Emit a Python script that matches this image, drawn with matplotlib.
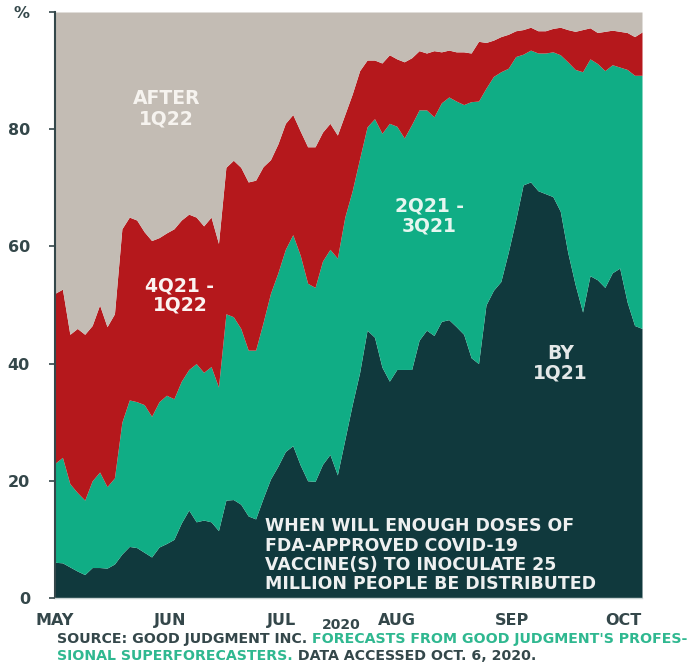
import matplotlib
matplotlib.use("Agg")
import matplotlib.pyplot as plt
import matplotlib.dates as mdates
import numpy as np
import pandas as pd

# ---- data (cumulative probabilities, %) ----
dates = pd.date_range("2020-05-01", "2020-10-06", freq="2D")
by_1q21 = [6.1, 6.0, 5.3, 4.6, 4.0, 5.2, 5.2, 5.1, 5.8, 7.5,
           8.8, 8.6, 7.8, 7.0, 8.7, 9.3, 10.0, 12.8, 15.0, 13.0,
           13.3, 13.0, 11.5, 16.7, 16.8, 16.0, 14.0, 13.5, 17.0, 20.3,
           22.5, 25.0, 26.0, 22.7, 20.0, 19.9, 22.8, 24.5, 21.0, 27.0,
           33.0, 38.5, 45.7, 44.5, 39.4, 37.0, 39.0, 39.0, 39.0, 44.0,
           45.7, 44.8, 47.2, 47.5, 46.3, 45.0, 41.0, 40.0, 50.0, 52.5,
           54.0, 59.0, 64.5, 70.5, 71.0, 69.5, 69.0, 68.5, 66.0, 59.0,
           53.5, 48.8, 55.0, 54.3, 53.0, 55.5, 56.3, 50.5, 46.5, 46.0]
by_3q21 = [23, 24, 19.5, 18, 16.7, 20, 21.5, 19, 20.5, 30,
           33.8, 33.5, 33, 31, 33.5, 34.6, 34, 37, 39, 40,
           38.5, 39.5, 36, 48.5, 48, 46, 42.3, 42.3, 47, 52,
           55.5, 59.5, 62, 58.5, 53.7, 53, 57.5, 59.5, 58, 65,
           69.5, 75, 80.4, 81.8, 79.3, 81, 80.5, 78.5, 80.8, 83.3,
           83.3, 82.1, 84.5, 85.5, 84.8, 84.2, 84.7, 84.8, 87, 89,
           89.8, 90.4, 92.4, 92.8, 93.5, 93, 93, 93.2, 92.7, 91.5,
           90.2, 89.8, 92, 91.2, 90, 91, 90.6, 90.2, 89.2, 89.2]
by_1q22 = [52, 52.7, 45, 46, 45, 46.5, 50, 46.3, 48.5, 63,
           65, 64.5, 62.5, 61, 61.5, 62.3, 63, 64.5, 65.5, 65,
           63.5, 65, 60.5, 73.5, 74.7, 73.5, 71, 71.3, 73.6, 74.8,
           77.5, 81, 82.5, 79.7, 77, 77, 79.5, 81, 79, 82.5,
           86, 90, 91.8, 91.8, 91.3, 92.7, 92, 91.5, 92.2, 93.4,
           93, 93.4, 93.2, 93.5, 93.2, 93.2, 93, 95, 94.8, 95.2,
           95.8, 96.2, 96.8, 97, 97.4, 96.8, 96.8, 97.2, 97.4, 97,
           96.7, 97, 97.3, 96.5, 96.7, 96.9, 96.7, 96.5, 95.8, 96.6]
total = [100] * len(dates)

month_ticks = pd.to_datetime(["2020-05-01", "2020-06-01", "2020-07-01",
                              "2020-08-01", "2020-09-01", "2020-10-01"])
month_labels = ["MAY", "JUN", "JUL", "AUG", "SEP", "OCT"]
y_ticks = [0, 20, 40, 60, 80, 100]
y_labels = ["0", "20", "40", "60", "80", "%"]

C_DARK = "#10393d"
C_GREEN = "#10ad85"
C_RED = "#b5181c"
C_GREY = "#c3bcb4"
C_TEXT = "#34474a"
C_SRC_GREEN = "#2fb890"
FONT = "DejaVu Sans"

fig = plt.figure(figsize=(6.93, 6.65), dpi=100)
ax = fig.add_axes([55 / 693, 67 / 665, 587 / 693, 586 / 665])

x = mdates.date2num(dates)
zero = np.zeros(len(x))
ax.fill_between(x, zero, by_1q21, color=C_DARK, lw=0)
ax.fill_between(x, by_1q21, by_3q21, color=C_GREEN, lw=0)
ax.fill_between(x, by_3q21, by_1q22, color=C_RED, lw=0)
ax.fill_between(x, by_1q22, total, color=C_GREY, lw=0)

ax.set_xlim(x[0], x[-1])
ax.set_ylim(0, 100)

ax.set_xticks(mdates.date2num(month_ticks))
ax.set_xticklabels(month_labels, fontsize=11.5, fontweight="bold",
                   color=C_TEXT, family=FONT)
ax.tick_params(axis="x", length=0, pad=11)
ax.set_yticks(y_ticks)
ax.set_yticklabels(y_labels, fontsize=11.5, fontweight="bold",
                   color=C_TEXT, family=FONT)
ax.tick_params(axis="y", length=4, width=1.2, color=C_TEXT, pad=14)

for s in ["top", "right"]:
    ax.spines[s].set_visible(False)
ax.spines["left"].set_color(C_TEXT)
ax.spines["left"].set_linewidth(1.5)
ax.spines["bottom"].set_color("#c9d3d3")
ax.spines["bottom"].set_linewidth(1.0)

def dx(day):
    return x[0] + day

lab = dict(fontsize=13.5, fontweight="bold", family=FONT, ha="center",
           va="center", linespacing=1.05)
ax.text(dx(30), 83.5, "AFTER\n1Q22", color="#f6f3ef", **lab)
ax.text(dx(33.6), 51.6, "4Q21 -\n1Q22", color="#fbf3f1", **lab)
ax.text(dx(100.7), 65.2, "2Q21 -\n3Q21", color="#e6f6f0", **lab)
ax.text(dx(136), 40.0, "BY\n1Q21", color="#e4e8e8", **lab)

note_lines = ["WHEN WILL ENOUGH DOSES OF", "FDA-APPROVED COVID-19",
              "VACCINE(S) TO INOCULATE 25", "MILLION PEOPLE BE DISTRIBUTED"]
note_y = [11.43, 8.1, 4.78, 1.54]
for t, yy in zip(note_lines, note_y):
    ax.text(dx(56.5), yy, t, color="#eef0f0", fontsize=12.5,
            fontweight="bold", family=FONT, ha="left", va="baseline")

fig.text(341 / 693, 1 - 625 / 665, "2020", fontsize=10, fontweight="bold",
         color=C_TEXT, family=FONT, ha="center", va="center")

src = dict(fontsize=10.2, fontweight="bold", family=FONT, va="baseline")
t1 = fig.text(57 / 693, 1 - 643 / 665, "SOURCE: GOOD JUDGMENT INC. ",
              color=C_TEXT, ha="left", **src)
ax.annotate("FORECASTS FROM GOOD JUDGMENT'S PROFES-", xy=(1, 0),
            xycoords=t1, color=C_SRC_GREEN, ha="left",
            annotation_clip=False, **{**src, "va": "bottom"})
t3 = fig.text(57 / 693, 1 - 660 / 665, "SIONAL SUPERFORECASTERS.",
              color=C_SRC_GREEN, ha="left", **src)
ax.annotate(" DATA ACCESSED OCT. 6, 2020.", xy=(1, 0), xycoords=t3,
            color=C_TEXT, ha="left", annotation_clip=False,
            **{**src, "va": "bottom"})

fig.savefig("out.png", dpi=100)
